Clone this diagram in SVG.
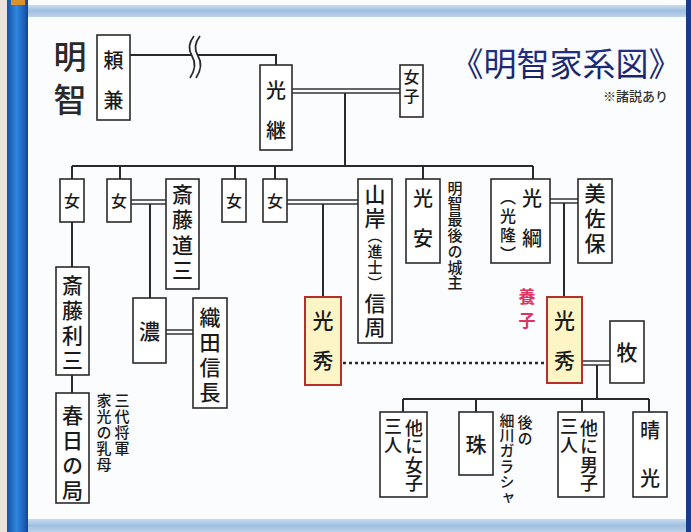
<svg xmlns="http://www.w3.org/2000/svg" width="691" height="532" viewBox="0 0 691 532">
<defs>
<linearGradient id="bar" x1="0" y1="0" x2="1" y2="0">
<stop offset="0" stop-color="#1552a8"/><stop offset="0.45" stop-color="#2f86dc"/><stop offset="0.85" stop-color="#1a5cb8"/><stop offset="1" stop-color="#1a3f86"/>
</linearGradient>
<linearGradient id="band" x1="0" y1="0" x2="0" y2="1">
<stop offset="0" stop-color="#c8dcef"/><stop offset="0.5" stop-color="#9fbfe0"/><stop offset="1" stop-color="#bcd3ea"/>
</linearGradient>
<linearGradient id="ttl" x1="0" y1="0" x2="0" y2="1">
<stop offset="0" stop-color="#26388e"/><stop offset="1" stop-color="#121f60"/>
</linearGradient>
<style>
.box{fill:#fff;stroke:#2a2a2a;stroke-width:1.6}
.hl{fill:#fdf5c6;stroke:#b5302c;stroke-width:2}
.ln{fill:none;stroke:#2a2a2a;stroke-width:2}
.dbl{fill:none;stroke:#333;stroke-width:1.5}
.t{font-family:"Noto Sans CJK JP","Noto Sans CJK SC",sans-serif;fill:#1a1a1a;text-anchor:middle;font-weight:500}
.v{font-family:"Noto Sans CJK JP","Noto Sans CJK SC",sans-serif;fill:#1a1a1a;writing-mode:vertical-rl;text-anchor:start;font-weight:500}
</style>
</defs>
<!-- frame -->
<rect x="0" y="0" width="691" height="532" fill="#fbfcfe"/>
<rect x="0" y="0" width="8" height="532" fill="#ece2dc"/>
<rect x="7" y="0" width="21" height="532" fill="url(#bar)"/>
<rect x="11" y="0" width="14" height="5" fill="#d8922e"/>
<rect x="28" y="5" width="658" height="12" fill="url(#band)"/>
<rect x="28" y="519" width="658" height="13" fill="url(#band)"/>
<rect x="686" y="0" width="5" height="532" fill="#1a3a8c"/>

<!-- headings -->
<g id="title">
<text x="566" y="76" class="t" style="font-size:33px;fill:url(#ttl);font-weight:normal">《明智家系図》</text>
<text x="668" y="101" class="t" style="font-size:13px;text-anchor:end;fill:#333">※諸説あり</text>
</g>
<g id="akechi">
<text class="v" x="70" y="40" style="font-size:33px;letter-spacing:10px;fill:#2a2a2a">明智</text>
</g>

<!-- connectors -->
<g id="connectors">
<path class="ln" d="M130,55 H276 V65"/>
<path d="M194,36 Q186,46 192,56 Q198,66 190,78 L196,78 Q204,66 198,56 Q192,46 200,36 Z" fill="#fbfcfe"/>
<path class="ln" d="M194,36 Q186,46 192,56 Q198,66 190,78 M200,36 Q192,46 198,56 Q204,66 196,78" style="stroke-width:1.8"/>
<path class="dbl" d="M292,89 H400 M292,93 H400"/>
<path class="ln" d="M345,93 V166 M72,166 H533"/>
<path class="ln" d="M72,166 V179 M120,166 V179 M235,166 V179 M275,166 V179 M423,166 V179 M533,166 V179"/>
<path class="dbl" d="M131,200 H166 M131,204 H166"/>
<path class="ln" d="M150,204 V298"/>
<path class="dbl" d="M166,330 H193 M166,334 H193"/>
<path class="ln" d="M72,222 V267 M72,375 V393"/>
<path class="dbl" d="M287,200 H358 M287,204 H358"/>
<path class="ln" d="M323,204 V297"/>
<path class="dbl" d="M550,199 H578 M550,203 H578"/>
<path class="ln" d="M564,203 V297"/>
<path class="ln" d="M343,363 H545" style="stroke-dasharray:3 3;stroke-width:2.6"/>
<path class="dbl" d="M582,361 H610 M582,365 H610"/>
<path class="ln" d="M597,365 V399 M403,399 H649 M403,399 V412 M476,399 V412 M582,399 V412 M649,399 V412"/>
</g>

<!-- nodes -->
<g id="yorikane"><rect class="box" x="97" y="35" width="33" height="85"/>
<text class="v" x="113.5" y="50" style="font-size:20px;letter-spacing:20px">頼兼</text></g>

<g id="mitsutsugu"><rect class="box" x="260" y="65" width="32" height="85"/>
<text class="v" x="276" y="80" style="font-size:20px;letter-spacing:20px">光継</text></g>

<g id="joshi"><rect class="box" x="400" y="65" width="23" height="52"/>
<text class="v" x="411.5" y="69" style="font-size:16px;letter-spacing:3px">女子</text></g>

<g id="onna1"><rect class="box" x="60" y="179" width="24" height="43"/>
<text class="t" style="font-size:16px" x="72" y="207">女</text></g>
<g id="onna2"><rect class="box" x="107" y="179" width="24" height="43"/>
<text class="t" style="font-size:16px" x="119" y="207">女</text></g>
<g id="onna3"><rect class="box" x="222" y="179" width="24" height="43"/>
<text class="t" style="font-size:16px" x="234" y="207">女</text></g>
<g id="onna4"><rect class="box" x="263" y="179" width="24" height="43"/>
<text class="t" style="font-size:16px" x="275" y="207">女</text></g>

<g id="saito-dosan"><rect class="box" x="166" y="179" width="33" height="110"/>
<text class="v" x="182.5" y="183.5" style="font-size:21px;letter-spacing:4.3px">斎藤道三</text></g>

<g id="saito-toshimitsu"><rect class="box" x="56" y="267" width="33" height="108"/>
<text class="v" x="72.5" y="274.5" style="font-size:21px;letter-spacing:4px">斎藤利三</text></g>

<g id="kasuga"><rect class="box" x="56" y="393" width="33" height="110"/>
<text class="v" x="72.5" y="404.5" style="font-size:21px;letter-spacing:4px">春日の局</text></g>
<g id="kasuga-note">
<text class="v" x="122" y="392.5" style="font-size:15px;letter-spacing:1px">三代将軍</text>
<text class="v" x="104" y="392.5" style="font-size:15px;letter-spacing:1px">家光の乳母</text>
</g>

<g id="no"><rect class="box" x="133" y="298" width="33" height="65"/>
<text class="t" style="font-size:21px" x="149.5" y="339">濃</text></g>

<g id="oda"><rect class="box" x="193" y="298" width="34" height="110"/>
<text class="v" x="210" y="306.5" style="font-size:21px;letter-spacing:4px">織田信長</text></g>

<g id="mitsuhide-left"><rect class="hl" x="305" y="297" width="36" height="88"/>
<text class="v" x="323" y="310" style="font-size:21px;letter-spacing:19px">光秀</text></g>

<g id="yamagishi"><rect class="box" x="358" y="179" width="34" height="164"/>
<text class="v" x="375" y="183.5" style="font-size:21px;letter-spacing:3px">山岸</text>
<text class="v" x="375" y="228" style="font-size:15px;letter-spacing:1px">（進士）</text>
<text class="v" x="375" y="292.5" style="font-size:21px;letter-spacing:3px">信周</text></g>

<g id="mitsuyasu"><rect class="box" x="406" y="179" width="34" height="84"/>
<text class="v" x="423" y="188" style="font-size:20px;letter-spacing:20px">光安</text></g>
<g id="mitsuyasu-note">
<text class="v" x="455" y="180.5" style="font-size:15px;letter-spacing:0.8px">明智最後の城主</text>
</g>

<g id="mitsutsuna"><rect class="box" x="491" y="179" width="59" height="84"/>
<text class="v" x="532" y="188" style="font-size:20px;letter-spacing:20px">光綱</text>
<text class="v" x="508" y="189" style="font-size:16px;letter-spacing:3px">（光隆）</text></g>

<g id="misaho"><rect class="box" x="578" y="179" width="34" height="84"/>
<text class="v" x="595" y="182.5" style="font-size:21px;letter-spacing:4px">美佐保</text></g>

<g id="yoshi">
<text class="v" x="527" y="288" style="font-size:17px;letter-spacing:7px;fill:#e0345e;font-weight:bold">養子</text>
</g>

<g id="mitsuhide-right"><rect class="hl" x="547" y="297" width="35" height="86"/>
<text class="v" x="564.5" y="310" style="font-size:21px;letter-spacing:19px">光秀</text></g>

<g id="maki"><rect class="box" x="610" y="321" width="34" height="62"/>
<text class="t" style="font-size:21px" x="627" y="360">牧</text></g>

<g id="daughters"><rect class="box" x="380" y="412" width="47" height="85"/>
<text class="v" x="414" y="419" style="font-size:18px;letter-spacing:0.5px">他に女子</text>
<text class="v" x="393" y="417" style="font-size:18px;letter-spacing:1px">三人</text></g>

<g id="tama"><rect class="box" x="459" y="412" width="34" height="63"/>
<text class="t" style="font-size:21px" x="476" y="452">珠</text></g>
<g id="tama-note">
<text class="v" x="525" y="414.5" style="font-size:15px;letter-spacing:1px">後の</text>
<text class="v" x="507" y="412.5" style="font-size:15px;letter-spacing:0.4px">細川ガラシャ</text>
</g>

<g id="sons"><rect class="box" x="558" y="412" width="46" height="85"/>
<text class="v" x="589" y="419" style="font-size:18px;letter-spacing:0.5px">他に男子</text>
<text class="v" x="569" y="417" style="font-size:18px;letter-spacing:1px">三人</text></g>

<g id="harumitsu"><rect class="box" x="633" y="412" width="34" height="85"/>
<text class="v" x="650" y="420" style="font-size:20px;letter-spacing:28px">晴光</text></g>
</svg>
